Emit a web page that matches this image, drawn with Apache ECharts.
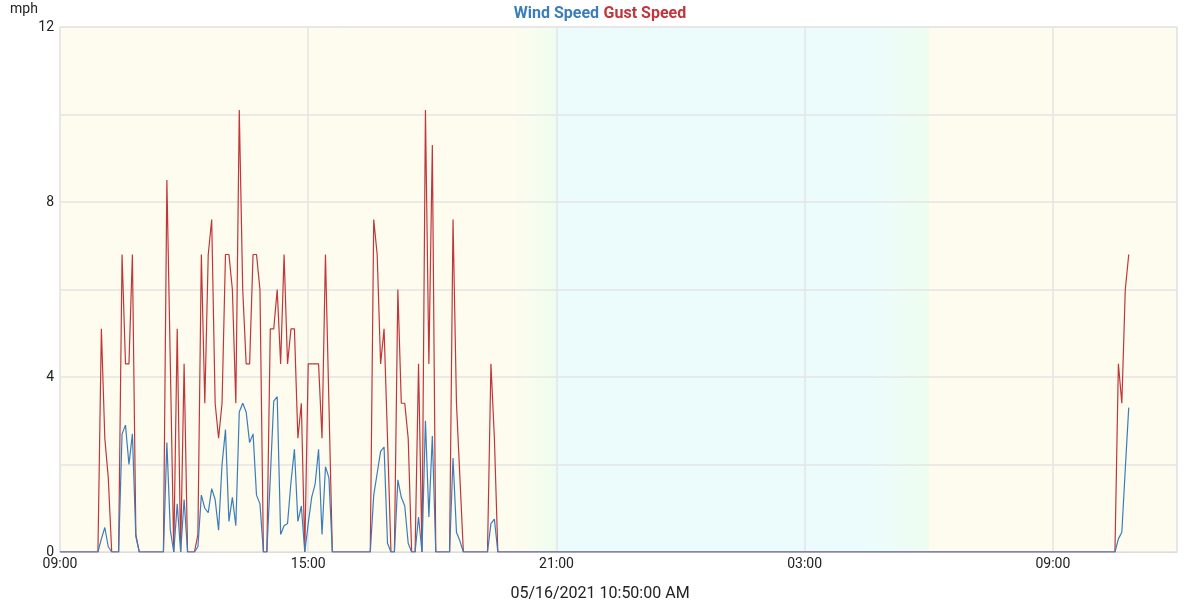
<!DOCTYPE html>
<html><head><meta charset="utf-8">
<script src="https://cdn.jsdelivr.net/npm/echarts@6/dist/echarts.min.js"></script>
<style>html,body{margin:0;padding:0;background:#fff}#c{width:1200px;height:600px}</style>
</head><body><div id="c"></div>
<script>
// Samples every 5 minutes starting 05/15/2021 09:00 (x in hours after start)
const stepMinutes = 5;
const xTickLabels = ['09:00', '15:00', '21:00', '03:00', '09:00'];
const yTickLabels = ['0', '4', '8', '12'];
const chartTitle = '05/16/2021 10:50:00 AM';
const seriesNames = ['Wind Speed', 'Gust Speed'];
// light phases: [start hour, end hour, kind]
const lightPhases = [
  [0, 10.95, 'day'],
  [10.95, 12.0, 'dusk'],
  [12.0, 19.6, 'night'],
  [19.6, 21.02, 'dawn'],
  [21.02, 27, 'day']
];
const windSpeed = [
  0,0,0,0,0,0,0,0,0,0,0,0,
  0.3,0.56,0.12,0,0,0,2.7,2.9,2.0,2.7,0.35,0,
  0,0,0,0,0,0,0,2.5,0.5,0,1.1,0,
  1.2,0,0,0,0.12,1.3,1.0,0.9,1.45,1.2,0.5,2.0,
  2.8,0.7,1.25,0.6,3.2,3.4,3.2,2.5,2.7,1.3,1.1,0,
  0,1.7,3.45,3.55,0.4,0.6,0.65,1.6,2.35,0.7,1.05,0,
  0.65,1.25,1.55,2.35,0.4,1.95,1.7,0,0,0,0,0,
  0,0,0,0,0,0,0,1.3,1.8,2.3,2.4,0.2,
  0,0,1.65,1.25,1.05,0.2,0,0,0.8,0,3.0,0.8,
  2.65,0,0,0,0,0,2.15,0.45,0.25,0,0,0,
  0,0,0,0,0,0.65,0.75,0,0,0,0,0,
  0,0,0,0,0,0,0,0,0,0,0,0,
  0,0,0,0,0,0,0,0,0,0,0,0,
  0,0,0,0,0,0,0,0,0,0,0,0,
  0,0,0,0,0,0,0,0,0,0,0,0,
  0,0,0,0,0,0,0,0,0,0,0,0,
  0,0,0,0,0,0,0,0,0,0,0,0,
  0,0,0,0,0,0,0,0,0,0,0,0,
  0,0,0,0,0,0,0,0,0,0,0,0,
  0,0,0,0,0,0,0,0,0,0,0,0,
  0,0,0,0,0,0,0,0,0,0,0,0,
  0,0,0,0,0,0,0,0,0,0,0,0,
  0,0,0,0,0,0,0,0,0,0,0,0,
  0,0,0,0,0,0,0,0,0,0,0,0,
  0,0,0,0,0,0,0,0,0,0,0,0,
  0,0,0,0,0,0,0,0.3,0.45,1.9,3.3
];
const gustSpeed = [
  0,0,0,0,0,0,0,0,0,0,0,0,
  5.1,2.6,1.7,0,0,0,6.8,4.3,4.3,6.8,0.4,0,
  0,0,0,0,0,0,0,8.5,4.3,0,5.1,0,
  4.3,0,0,0,0.4,6.8,3.4,6.8,7.6,3.4,2.6,3.4,
  6.8,6.8,6.0,3.4,10.1,6.0,4.3,4.3,6.8,6.8,6.0,0,
  0,5.1,5.1,6.0,4.3,6.8,4.3,5.1,5.1,2.6,3.4,0,
  4.3,4.3,4.3,4.3,2.6,6.8,3.4,0,0,0,0,0,
  0,0,0,0,0,0,0,7.6,6.8,4.3,5.1,2.6,
  0,0,6.0,3.4,3.4,2.6,0,0,4.3,0,10.1,4.3,
  9.3,0,0,0,0,0,7.6,3.4,1.7,0,0,0,
  0,0,0,0,0,4.3,2.6,0,0,0,0,0,
  0,0,0,0,0,0,0,0,0,0,0,0,
  0,0,0,0,0,0,0,0,0,0,0,0,
  0,0,0,0,0,0,0,0,0,0,0,0,
  0,0,0,0,0,0,0,0,0,0,0,0,
  0,0,0,0,0,0,0,0,0,0,0,0,
  0,0,0,0,0,0,0,0,0,0,0,0,
  0,0,0,0,0,0,0,0,0,0,0,0,
  0,0,0,0,0,0,0,0,0,0,0,0,
  0,0,0,0,0,0,0,0,0,0,0,0,
  0,0,0,0,0,0,0,0,0,0,0,0,
  0,0,0,0,0,0,0,0,0,0,0,0,
  0,0,0,0,0,0,0,0,0,0,0,0,
  0,0,0,0,0,0,0,0,0,0,0,0,
  0,0,0,0,0,0,0,0,0,0,0,0,
  0,0,0,0,0,0,0,4.3,3.4,6.0,6.8
];

const BLUE = '#3b7dbb', RED = '#c0363a';
const DAY = '#fefcee', NIGHT = '#ecfcfc', TWI = '#eefdef';
function phaseColor(kind) {
  if (kind === 'day') return DAY;
  if (kind === 'night') return NIGHT;
  const from = kind === 'dusk' ? DAY : NIGHT;
  return {type: 'linear', x: 0, y: 0, x2: 1, y2: 0, colorStops: [{offset: 0, color: from}, {offset: 1, color: TWI}]};
}
const toPairs = arr => arr.map((v, i) => [i * stepMinutes / 60, v]);

const chart = echarts.init(document.getElementById('c'), null, {renderer: 'canvas'});
chart.setOption({
  animation: false,
  textStyle: {fontFamily: 'Roboto, sans-serif'},
  title: [{
    text: '{a|' + seriesNames[0] + '} {b|' + seriesNames[1] + '}',
    left: 'center', top: 0,
    textStyle: {rich: {
      a: {color: BLUE, fontSize: 16, fontWeight: 'bold', fontFamily: 'Roboto'},
      b: {color: RED, fontSize: 16, fontWeight: 'bold', fontFamily: 'Roboto'}
    }}
  }, {
    text: chartTitle, left: 'center', top: 581,
    textStyle: {color: '#222', fontSize: 16, fontWeight: 'normal', fontFamily: 'Roboto'}
  }],
  graphic: [{type: 'text', left: 10, top: 2, style: {text: 'mph', fill: '#222', font: '14px Roboto'}}],
  grid: {left: 60, right: 23, top: 27, bottom: 48, show: true, borderColor: '#e4e4e4', borderWidth: 1, backgroundColor: 'transparent'},
  xAxis: {
    type: 'value', min: 0, max: 27, interval: 6,
    axisLine: {show: true, lineStyle: {color: '#dddddd'}},
    axisTick: {show: false},
    splitLine: {show: true, lineStyle: {color: '#e4e4e4', width: 1.5}},
    axisLabel: {color: '#222', fontSize: 14, margin: 5, showMaxLabel: false,
      formatter: v => xTickLabels[Math.round(v / 6)] || ''}
  },
  yAxis: {
    type: 'value', min: 0, max: 12, interval: 2,
    axisLine: {show: false}, axisTick: {show: false},
    splitLine: {show: true, lineStyle: {color: '#e4e4e4', width: 1.5}},
    axisLabel: {color: '#222', fontSize: 14, margin: 6,
      formatter: v => (v % 4 === 0 ? yTickLabels[v / 4] : '')}
  },
  series: [{
    name: 'phases', type: 'line', data: [], z: -5, silent: true,
    markArea: {silent: true, z: -5, label: {show: false},
      data: lightPhases.map(p => [{xAxis: p[0], itemStyle: {color: phaseColor(p[2])}}, {xAxis: p[1]}])}
  }, {
    name: seriesNames[1], type: 'line', data: toPairs(gustSpeed),
    showSymbol: false, lineStyle: {color: RED, width: 1.2}, itemStyle: {color: RED}
  }, {
    name: seriesNames[0], type: 'line', data: toPairs(windSpeed),
    showSymbol: false, lineStyle: {color: BLUE, width: 1.2}, itemStyle: {color: BLUE}
  }]
});
</script></body></html>
